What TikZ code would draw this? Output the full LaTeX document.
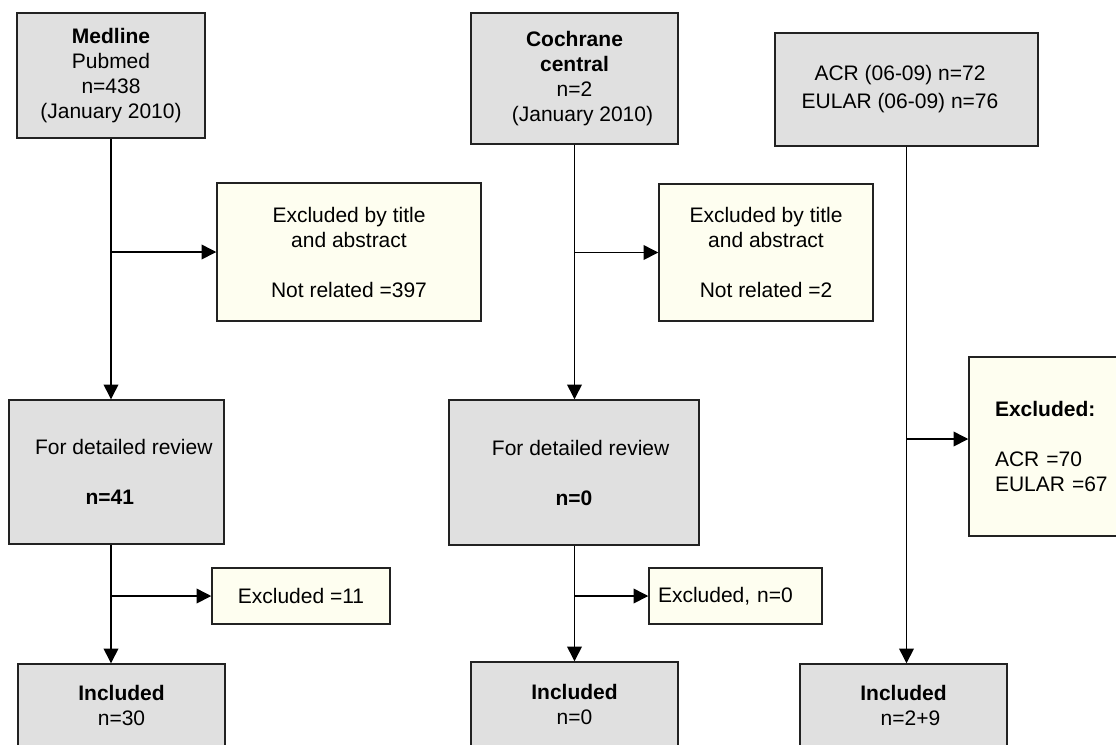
\documentclass[tikz,border=0pt]{standalone}
\usepackage{fontspec}
\setmainfont{Liberation Sans}
\usetikzlibrary{arrows.meta,calc}
\definecolor{boxgrey}{RGB}{224,224,224}
\definecolor{boxcream}{RGB}{254,254,240}
\definecolor{edgecol}{RGB}{34,34,34}
\begin{document}
\begin{tikzpicture}[x=0.75pt,y=-0.75pt,
  base/.style={draw=edgecol, line width=1.1pt, font=\fontsize{15.75}{18.75}\selectfont, align=center, inner sep=0pt},
  gbox/.style={base, fill=boxgrey},
  ybox/.style={base, fill=boxcream},
  arr/.style={line width=1.1pt, draw=black, -{Triangle[length=11pt,width=11pt]}}]
\useasboundingbox (0,0) rectangle (1116,744);
\clip (0,0) rectangle (1116,744);

% column 1
\node[gbox, minimum width=141pt, minimum height=93.75pt] (med) at (111,75.5)
  {\textbf{Medline}\\Pubmed\\n=438\\(January 2010)};
\node[ybox, minimum width=198pt, minimum height=103.5pt] (ex1) at (349,252)
  {Excluded by title\\and abstract\\[18.75pt]Not related =397};
\node[gbox, minimum width=161.25pt, minimum height=108pt] (rev1) at (116.5,472)
  {\hspace*{11pt}For detailed review\\[18.75pt]\textbf{n=41}\hspace*{10pt}};
\node[ybox, minimum width=133.5pt, minimum height=42pt] (ex11) at (301,596)
  {Excluded =11};
\node[gbox, minimum width=155.25pt, minimum height=61.5pt] (inc1) at (121.5,705)
  {\textbf{Included}\\n=30};

% column 2
\node[gbox, minimum width=155.25pt, minimum height=98.25pt] (coch) at (574.5,78.5)
  {\textbf{Cochrane}\\\textbf{central}\\n=2\\\hspace*{12pt}(January 2010)};
\node[ybox, minimum width=160.5pt, minimum height=102.75pt] (ex2) at (766,252.5)
  {Excluded by title\\and abstract\\[18.75pt]Not related =2};
\node[gbox, minimum width=187.5pt, minimum height=108.75pt] (rev2) at (574,472.5)
  {\hspace*{10pt}For detailed review\\[18.75pt]\textbf{n=0}};
\node[ybox, minimum width=129.75pt, minimum height=42pt, align=left, inner xsep=6.75pt, text width=116.25pt] (exn0) at (735.5,596)
  {Excluded, n=0};
\node[gbox, minimum width=155.25pt, minimum height=63pt] (inc2) at (574.5,704)
  {\textbf{Included}\\n=0};

% column 3
\node[gbox, minimum width=197.25pt, minimum height=84.75pt, font=\fontsize{15.75}{21}\selectfont] (acr) at (906.5,89.5)
  {ACR (06-09) n=72\hspace*{9.75pt}\\EULAR (06-09) n=76\hspace*{9.75pt}};
\node[ybox, minimum width=128.25pt, minimum height=134.25pt, align=left, inner xsep=19.5pt, text width=89.25pt] (exacr) at (1054.5,446.5)
  {\textbf{Excluded:}\\[18.75pt]ACR =70\\EULAR =67};
\node[gbox, minimum width=155.25pt, minimum height=61.5pt] (inc3) at (903.5,705)
  {\textbf{Included}\\\hspace*{10.5pt}n=2+9};

% connectors column 1
\draw[arr] (med.south) -- (med.south |- rev1.north);
\draw[arr] (med.south |- ex1.west) -- (ex1.west);
\draw[arr] (med.south |- rev1.south) -- (med.south |- inc1.north);
\draw[arr] (med.south |- ex11.west) -- (ex11.west);

% connectors column 2
\draw[arr] (coch.south) -- (coch.south |- rev2.north);
\draw[arr] (coch.south |- ex2.west) -- (ex2.west);
\draw[arr] (coch.south |- rev2.south) -- (coch.south |- inc2.north);
\draw[arr] (coch.south |- exn0.west) -- (exn0.west);

% connectors column 3
\draw[arr] (acr.south) -- (acr.south |- inc3.north);
\draw[arr] ($(acr.south |- exacr.west)+(0,-7.5)$) -- ($(exacr.west)+(0,-7.5)$);
\end{tikzpicture}
\end{document}
